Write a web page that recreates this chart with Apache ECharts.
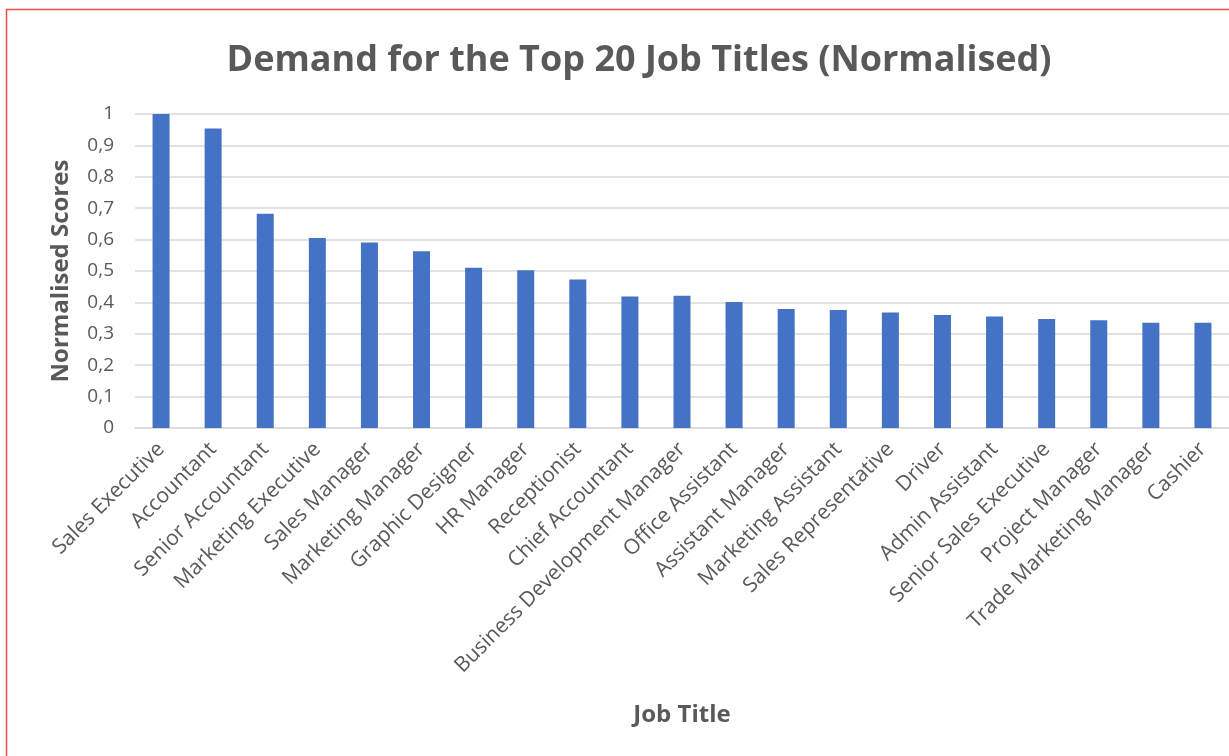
<!DOCTYPE html>
<html>
<head>
<meta charset="utf-8">
<style>
  html, body { margin: 0; padding: 0; background: #ffffff; }
  #chart { width: 1229px; height: 756px; }
</style>
<script src="https://cdn.jsdelivr.net/npm/echarts@6/dist/echarts.min.js"></script>
</head>
<body>
<div id="chart"></div>
<script>
// Job titles, ordered by demand
const jobTitles = [
  'Sales Executive', 'Accountant', 'Senior Accountant', 'Marketing Executive',
  'Sales Manager', 'Marketing Manager', 'Graphic Designer', 'HR Manager',
  'Receptionist', 'Chief Accountant', 'Business Development Manager',
  'Office Assistant', 'Assistant Manager', 'Marketing Assistant',
  'Sales Representative', 'Driver', 'Admin Assistant', 'Senior Sales Executive',
  'Project Manager', 'Trade Marketing Manager', 'Cashier'
];

// Normalised demand score for each title
const normalisedScores = [
  1.000, 0.954, 0.682, 0.605, 0.591, 0.563, 0.510, 0.502, 0.473, 0.419,
  0.421, 0.401, 0.379, 0.376, 0.368, 0.360, 0.355, 0.347, 0.343, 0.335, 0.335
];

const chartTitle = 'Demand for the Top 20 Job Titles (Normalised)';
const xAxisTitle = 'Job Title';
const yAxisTitle = 'Normalised Scores';

const textGrey = '#595959';
const fontFamily = '"Open Sans", "Noto Sans", sans-serif';

const chart = echarts.init(document.getElementById('chart'));

chart.setOption({
  backgroundColor: '#ffffff',
  animation: false,
  title: {
    text: chartTitle,
    left: 634,
    textAlign: 'center',
    top: 38,
    textStyle: { color: textGrey, fontSize: 36, fontWeight: 'bold', fontFamily }
  },
  graphic: [
    {
      // thin red frame around the chart area
      type: 'rect',
      shape: { x: 6.5, y: 9.5, width: 1400, height: 900 },
      style: { fill: 'none', stroke: '#ee4b4b', lineWidth: 1.5 },
      silent: true
    }
  ],
  grid: { left: 135, top: 114, width: 1097, height: 314 },
  xAxis: {
    type: 'category',
    data: jobTitles,
    name: xAxisTitle,
    nameLocation: 'middle',
    nameGap: 275,
    nameTextStyle: { color: textGrey, fontSize: 24, fontWeight: 'bold', fontFamily },
    axisLine: { show: true, lineStyle: { color: '#d9d9d9', width: 1.5 } },
    axisTick: { show: false },
    axisLabel: {
      interval: 0,
      rotate: 45,
      color: textGrey,
      fontSize: 21,
      fontFamily,
      margin: 18
    }
  },
  yAxis: {
    type: 'value',
    min: 0,
    max: 1,
    interval: 0.1,
    name: yAxisTitle,
    nameLocation: 'middle',
    nameRotate: 90,
    nameGap: 62,
    nameTextStyle: { color: textGrey, fontSize: 24, fontWeight: 'bold', fontFamily },
    axisLine: { show: false },
    axisTick: { show: false },
    splitLine: { lineStyle: { color: '#d9d9d9', width: 1.5 } },
    axisLabel: {
      color: textGrey,
      fontSize: 19,
      fontFamily,
      margin: 21,
      formatter: v => (Math.round(v * 10) / 10).toString().replace('.', ',')
    }
  },
  series: [{
    type: 'bar',
    data: normalisedScores,
    barWidth: 17,
    itemStyle: { color: '#4472c4' }
  }]
});
</script>
</body>
</html>
